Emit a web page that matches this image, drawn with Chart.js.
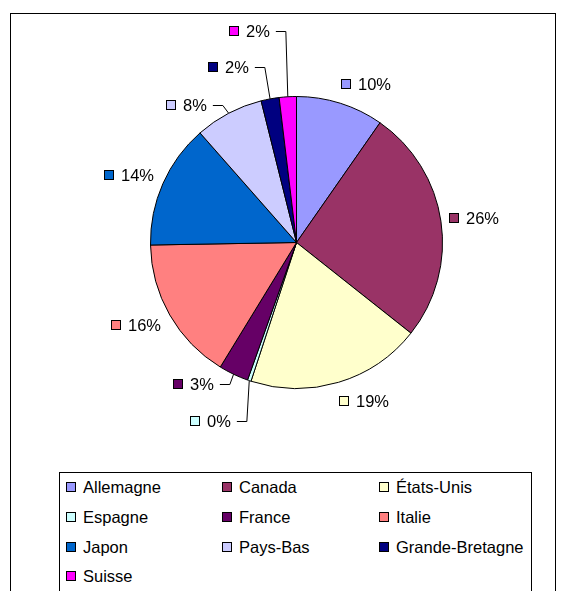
<!DOCTYPE html>
<html><head><meta charset="utf-8">
<script src="https://cdn.jsdelivr.net/npm/chart.js@4"></script>
<style>
html,body{margin:0;padding:0;background:#fff;}
#wrap{position:relative;width:570px;height:591px;overflow:hidden;font-family:"Liberation Sans",Arial,sans-serif;}
#frame{position:absolute;left:10px;top:13px;width:546px;height:620px;border:1px solid #000;box-sizing:border-box;}
#c{position:absolute;left:0;top:0;}
#legendBox{position:absolute;left:59px;top:472px;width:473px;height:160px;border:1px solid #000;box-sizing:border-box;background:#fff;}
.sw{position:absolute;width:10px;height:10px;border:1px solid #000;box-sizing:border-box;}
.lt{position:absolute;font-size:16.5px;line-height:16px;white-space:nowrap;color:#000;}
</style></head>
<body>
<div id="wrap">
  <div id="frame"></div>
  <canvas id="c" width="570" height="591"></canvas>
  <div id="legendBox"></div>
</div>
<script>
// ---- data ----
const categories = ["Allemagne","Canada","États-Unis","Espagne","France","Italie","Japon","Pays-Bas","Grande-Bretagne","Suisse"];
const shares = [9.7, 26.0, 19.4, 0.4, 3.3, 16.0, 13.8, 7.6, 2.0, 1.9];
const colors = ["#9999FF","#993366","#FFFFCC","#CCFFFF","#660066","#FF8080","#0066CC","#CCCCFF","#000080","#FF00FF"];
// ---- label placement styling (moved labels with leader lines) ----
const labelShift = {"Espagne":[-15,21],"France":[-15,-8],"Pays-Bas":[-17,9],"Grande-Bretagne":[-19,-12],"Suisse":[-17,-46]};

const FONT = '16.5px "Liberation Sans", Arial, sans-serif';
const total = shares.reduce((a,b)=>a+b,0);

const labelPlugin = {
  id:'pieLabels',
  afterDatasetsDraw(chart){
    const ctx = chart.ctx;
    const meta = chart.getDatasetMeta(0);
    ctx.save();
    ctx.font = FONT;
    meta.data.forEach((arc,i)=>{
      const p = arc.getProps(['x','y','startAngle','endAngle','outerRadius'],true);
      const mid = (p.startAngle+p.endAngle)/2;
      const cs = Math.cos(mid), sn = Math.sin(mid);
      const R = p.outerRadius;
      const ax = p.x + (R+10)*cs, ay = p.y + (R+10)*sn;
      const txt = Math.round(shares[i]/total*100) + '%';
      const tw = ctx.measureText(txt).width;
      const w = 17 + tw;
      let x0 = cs >= 0 ? ax - 2 : ax - w;
      let yc = ay + 10*sn;
      const sh = labelShift[categories[i]];
      if (sh){ x0 += sh[0]; yc += sh[1]; }
      x0 = Math.round(x0); yc = Math.round(yc);
      // key square
      ctx.fillStyle = colors[i];
      ctx.fillRect(x0, yc-5, 10, 10);
      ctx.strokeStyle = '#000'; ctx.lineWidth = 1;
      ctx.strokeRect(x0+0.5, yc-4.5, 9, 9);
      // text
      ctx.fillStyle = '#000';
      ctx.textBaseline = 'alphabetic';
      ctx.textAlign = 'left';
      ctx.fillText(txt, x0+17, yc+6);
      if (sh){
        const sx = x0+17+tw+6;
        const ex = p.x + R*cs, ey = p.y + R*sn;
        ctx.beginPath();
        ctx.strokeStyle = '#000'; ctx.lineWidth = 1;
        ctx.moveTo(sx, yc+0.5);
        ctx.lineTo(sx+10, yc+0.5);
        ctx.lineTo(ex, ey);
        ctx.stroke();
      }
    });
    ctx.restore();
  }
};

new Chart(document.getElementById('c'), {
  type:'pie',
  data:{ labels:categories, datasets:[{ data:shares, backgroundColor:colors, borderColor:'#000', borderWidth:1, hoverOffset:0 }]},
  options:{
    responsive:false, animation:false,
    layout:{padding:{left:150, right:127, top:96, bottom:202}},
    plugins:{legend:{display:false}, tooltip:{enabled:false}}
  },
  plugins:[labelPlugin]
});

// ---- legend (HTML) ----
const wrap = document.getElementById('wrap');
const colX = [66, 222, 379];
const rowY = [487, 517, 547, 576];
categories.forEach((name,i)=>{
  const cx = colX[i%3], cy = rowY[Math.floor(i/3)];
  const sw = document.createElement('div');
  sw.className='sw'; sw.style.left=cx+'px'; sw.style.top=(cy-5)+'px'; sw.style.background=colors[i];
  wrap.appendChild(sw);
  const t = document.createElement('div');
  t.className='lt'; t.textContent=name; t.style.left=(cx+17)+'px'; t.style.top=(cy-8)+'px';
  wrap.appendChild(t);
});
</script>
</body></html>
